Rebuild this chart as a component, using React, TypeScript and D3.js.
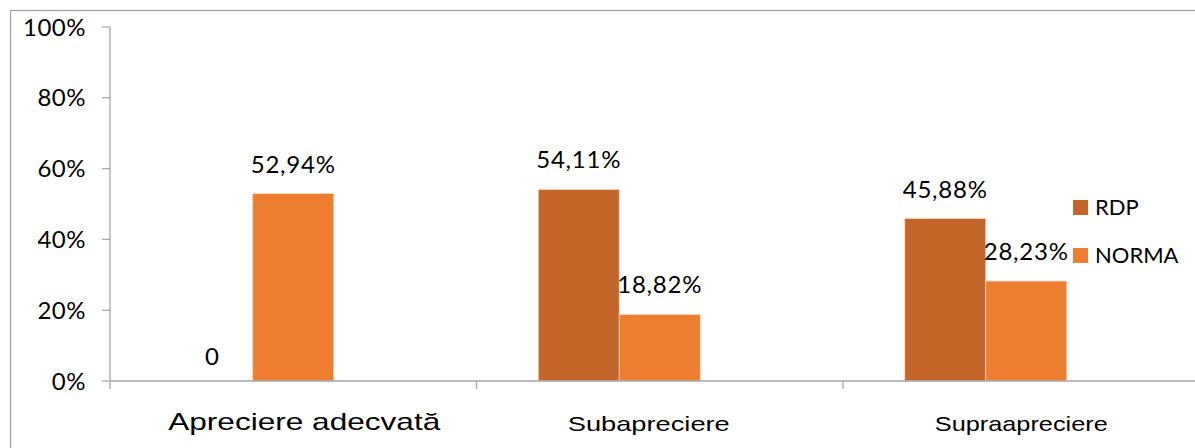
import React from "react";
import * as d3 from "d3";

const categories = ["Apreciere adecvată", "Subapreciere", "Supraapreciere"];
const seriesNames = ["RDP", "NORMA"];
const rdpValues = [0, 54.11, 45.88];
const normaValues = [52.94, 18.82, 28.23];
const rdpLabels = ["0", "54,11%", "45,88%"];
const normaLabels = ["52,94%", "18,82%", "28,23%"];
const yTicks = [0, 20, 40, 60, 80, 100];
const yTickLabels = ["0%", "20%", "40%", "60%", "80%", "100%"];
const colors = ["#C4662A", "#ED7D31"];

const W = 1195;
const H = 448;
const left = 110;
const top = 27;
const bottom = 381;
const catWidth = 366.5;
const right = left + catWidth * categories.length;

// category label styling (size, width, horizontal shift from band centre)
const catFontSizes = [24, 21, 21];
const catTextLengths = [272, 162, 173];
const catShift = [11, -11, -5];

export default function App() {
  const x0 = d3.scaleBand<string>().domain(categories).range([left, right]).paddingInner(0).paddingOuter(0);
  const bw = x0.bandwidth();
  // group occupies 3 slots (third slot empty), centered within the category
  const slot = 81;
  const groupOffset = (bw - slot * 3) / 2;
  const x1 = d3.scaleBand<string>().domain(seriesNames).range([groupOffset, groupOffset + slot * 2]);
  const y = d3.scaleLinear().domain([0, 100]).range([bottom, top]);
  const values = [rdpValues, normaValues];
  const labels = [rdpLabels, normaLabels];
  const numFont = "Lato, 'Open Sans', sans-serif";

  return (
    <svg width={W} height={H} style={{ position: "absolute", left: 0, top: 0, background: "#fff" }}>
      <rect x={10.5} y={10.5} width={1300} height={600} fill="#fff" stroke="#A0A0A0" strokeWidth={1.2} />
      {/* y axis */}
      <line x1={left} x2={left} y1={y(100)} y2={bottom} stroke="#A6A6A6" strokeWidth={1.3} />
      {yTicks.map((t, i) => (
        <g key={t}>
          <line x1={left - 8} x2={left} y1={y(t)} y2={y(t)} stroke="#A6A6A6" strokeWidth={1.3} />
          <text x={left - 24} y={y(t)} dy="0.36em" textAnchor="end" fontFamily={numFont} fontSize={24} letterSpacing={0.5} fill="#000">
            {yTickLabels[i]}
          </text>
        </g>
      ))}
      {/* bars */}
      {seriesNames.map((s, si) =>
        categories.map((c, ci) => {
          const v = values[si][ci];
          const bx = (x0(c) as number) + (x1(s) as number);
          return (
            <g key={s + c}>
              {v > 0 && (
                <rect
                  x={bx}
                  y={y(v)}
                  width={x1.bandwidth()}
                  height={bottom - y(v)}
                  fill={colors[si]}
                  stroke="#F6D5BE"
                  strokeWidth={0.8}
                />
              )}
              <text
                x={bx + x1.bandwidth() / 2}
                y={y(v) - (v > 0 ? 21 : 16)}
                textAnchor="middle"
                fontFamily={numFont}
                fontSize={24}
                letterSpacing={0.8}
                fill="#000"
              >
                {labels[si][ci]}
              </text>
            </g>
          );
        })
      )}
      {/* x axis */}
      <line x1={left} x2={right} y1={bottom} y2={bottom} stroke="#A6A6A6" strokeWidth={1.5} />
      {categories.map((c, i) => (
        <g key={c}>
          <line x1={x0(c) as number} x2={x0(c) as number} y1={bottom} y2={bottom + 8} stroke="#A6A6A6" strokeWidth={1.3} />
          <text
            x={(x0(c) as number) + bw / 2 + catShift[i] - catTextLengths[i] / 2}
            y={i === 0 ? 430 : 431}
            textLength={catTextLengths[i]}
            lengthAdjust="spacingAndGlyphs"
            fontFamily="'Liberation Sans', Arial, sans-serif"
            fontSize={catFontSizes[i]}
            fill="#000"
          >
            {c}
          </text>
        </g>
      ))}
      <line x1={right} x2={right} y1={bottom} y2={bottom + 8} stroke="#A6A6A6" strokeWidth={1.3} />
      {/* legend */}
      {seriesNames.map((s, i) => (
        <g key={s} transform={`translate(1073, ${200 + i * 48})`}>
          <rect x={0} y={0} width={15} height={15} fill={colors[i]} />
          <text x={22} y={7.5} dy="0.36em" fontFamily={numFont} fontSize={22} fill="#000">
            {s}
          </text>
        </g>
      ))}
    </svg>
  );
}
